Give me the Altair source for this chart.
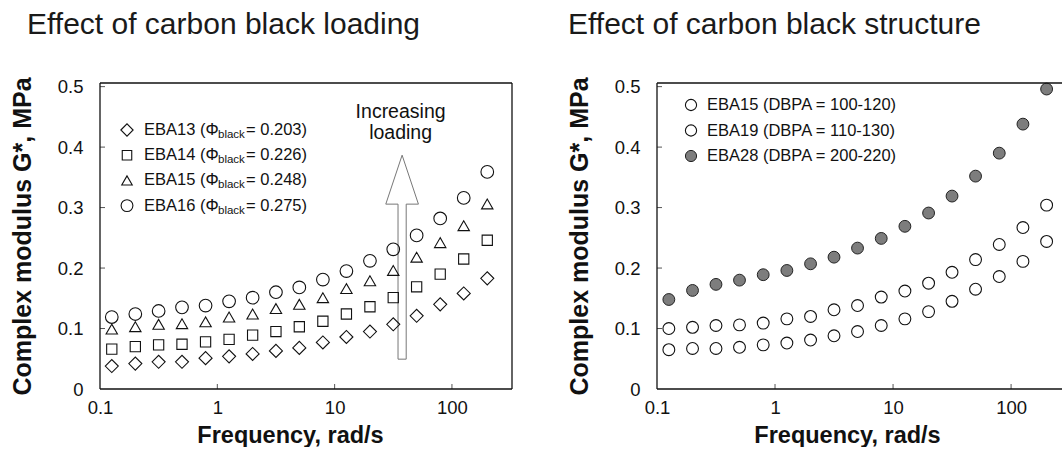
import altair as alt
import pandas as pd

# ---------------- data ----------------
freq = [0.126, 0.2, 0.316, 0.5, 0.794, 1.26, 2, 3.16, 5, 7.94, 12.6, 20, 31.6, 50, 79.4, 126, 200]

# Left panel: effect of carbon black loading
eba13 = [0.038, 0.042, 0.045, 0.045, 0.051, 0.054, 0.058, 0.063, 0.068, 0.077, 0.086, 0.095, 0.107, 0.121, 0.140, 0.158, 0.183]
eba14 = [0.066, 0.070, 0.073, 0.074, 0.078, 0.082, 0.089, 0.095, 0.103, 0.112, 0.124, 0.136, 0.151, 0.169, 0.190, 0.215, 0.246]
eba15_load = [0.099, 0.103, 0.107, 0.108, 0.111, 0.119, 0.124, 0.133, 0.140, 0.151, 0.166, 0.179, 0.196, 0.218, 0.242, 0.270, 0.306]
eba16 = [0.119, 0.124, 0.129, 0.135, 0.138, 0.145, 0.151, 0.160, 0.168, 0.181, 0.195, 0.212, 0.231, 0.254, 0.282, 0.316, 0.359]

# Right panel: effect of carbon black structure
eba15_struct = [0.100, 0.102, 0.105, 0.106, 0.109, 0.116, 0.120, 0.131, 0.138, 0.152, 0.162, 0.175, 0.193, 0.214, 0.239, 0.267, 0.304]
eba19 = [0.065, 0.067, 0.067, 0.069, 0.073, 0.076, 0.081, 0.088, 0.095, 0.105, 0.116, 0.128, 0.145, 0.165, 0.186, 0.211, 0.244]
eba28 = [0.148, 0.163, 0.173, 0.180, 0.189, 0.196, 0.207, 0.218, 0.233, 0.249, 0.269, 0.291, 0.319, 0.352, 0.390, 0.438, 0.496]

# text
left_title = "Effect of carbon black loading"
right_title = "Effect of carbon black structure"
x_title = "Frequency, rad/s"
y_title = "Complex modulus G*, MPa"
left_names = ["EBA13", "EBA14", "EBA15", "EBA16"]
left_phi = ["0.203", "0.226", "0.248", "0.275"]
right_labels = ["EBA15 (DBPA = 100-120)", "EBA19 (DBPA = 110-130)", "EBA28 (DBPA = 200-220)"]
ann_text = ["Increasing", "loading"]
ann_freq = [36.5, 36.5]
ann_mod = [0.458, 0.424]
arrow_freq = [37.6]
arrow_mod = [0.218]

x_ticks = [0.1, 1, 10, 100]
y_ticks = [0, 0.1, 0.2, 0.3, 0.4, 0.5]

# ---------------- styling ----------------
FONT = "Liberation Sans"
INK = "#111111"
H = 306
WL = 412
WR = 405
ARROW = "M -0.04 1 L 0.04 1 L 0.04 -0.52 L 0.16 -0.52 L 0 -1 L -0.16 -0.52 L -0.04 -0.52 Z"


def x_enc(xmax):
    return alt.X(
        "freq:Q",
        scale=alt.Scale(type="log", domain=[0.1, xmax], nice=False),
        axis=alt.Axis(values=x_ticks, format="~g", ticks=False, domain=False, grid=False,
                      labelFlush=False, labelFontSize=18.5, labelPadding=9, labelFont=FONT,
                      labelColor=INK,
                      title=x_title, titleFont=FONT, titleFontSize=23.5, titleFontWeight="bold",
                      titleColor=INK, titlePadding=7, titleX=190, titleAlign="center"),
    )


def y_enc():
    return alt.Y(
        "modulus:Q",
        scale=alt.Scale(domain=[0, 0.506], nice=False),
        axis=alt.Axis(values=y_ticks, format="~g", ticks=False, domain=False, grid=False,
                      labelFlush=False, labelFontSize=18.5, labelPadding=17, labelFont=FONT,
                      labelColor=INK,
                      title=y_title, titleFont=FONT, titleFontSize=25, titleFontWeight="bold",
                      titleColor=INK, titlePadding=22),
    )


def series(vals, xmax, shape, size, filled=False):
    df = pd.DataFrame({"freq": freq, "modulus": vals})
    if filled:
        mk = alt.Chart(df).mark_point(shape=shape, size=size, filled=True, fill="#7d7d7d",
                                      stroke="#222222", strokeWidth=1, opacity=1)
    else:
        mk = alt.Chart(df).mark_point(shape=shape, size=size, filled=False, color=INK,
                                      strokeWidth=1.1, opacity=1)
    return mk.encode(x=x_enc(xmax), y=y_enc())


def frame(W, right=True):
    rule = dict(color=INK, strokeWidth=1.3)
    layers = [
        alt.Chart().mark_rule(**rule).encode(x=alt.value(0), x2=alt.value(W), y=alt.value(0)),
        alt.Chart().mark_rule(**rule).encode(x=alt.value(0), x2=alt.value(W), y=alt.value(H)),
        alt.Chart().mark_rule(**rule).encode(x=alt.value(0), y=alt.value(0), y2=alt.value(H)),
    ]
    if right:
        layers.append(alt.Chart().mark_rule(**rule).encode(x=alt.value(W), y=alt.value(0), y2=alt.value(H)))
    return layers


def inner_ticks(xmax):
    ydf = pd.DataFrame({"modulus": y_ticks[1:]})
    xdf = pd.DataFrame({"freq": x_ticks[1:]})
    return [
        alt.Chart(ydf).mark_rule(color="#555555", strokeWidth=1).encode(
            y=y_enc(), x=alt.value(0), x2=alt.value(5)),
        alt.Chart(xdf).mark_rule(color="#555555", strokeWidth=1).encode(
            x=x_enc(xmax), y=alt.value(H), y2=alt.value(H - 5)),
    ]


def txt(text, x, y, size=16.5, align="left"):
    return alt.Chart().mark_text(text=text, font=FONT, fontSize=size, color=INK, align=align,
                                 baseline="middle").encode(x=alt.value(x), y=alt.value(y))


def sym(shape, x, y, size, filled=False):
    if filled:
        m = alt.Chart().mark_point(shape=shape, size=size, filled=True, fill="#7d7d7d",
                                   stroke="#222222", strokeWidth=1, opacity=1)
    else:
        m = alt.Chart().mark_point(shape=shape, size=size, filled=False, color=INK,
                                   strokeWidth=1.1, opacity=1)
    return m.encode(x=alt.value(x), y=alt.value(y))


# ---------------- left panel ----------------
XL = 325
arrow = alt.Chart(pd.DataFrame({"freq": arrow_freq, "modulus": arrow_mod})).mark_point(
    shape=ARROW, size=41616, filled=True, fill="white", stroke="#777777", strokeWidth=1, opacity=1
).encode(x=x_enc(XL), y=y_enc())
ann = alt.Chart(pd.DataFrame({"freq": ann_freq, "modulus": ann_mod, "t": ann_text})).mark_text(
    font=FONT, fontSize=19.5, color=INK, align="center", baseline="middle"
).encode(x=x_enc(XL), y=y_enc(), text="t:N")

left_shapes = ["diamond", "square", "triangle-up", "circle"]
left_sizes = [170, 105, 130, 160]
left_leg_sizes = [150, 90, 110, 140]
left_data = [eba13, eba14, eba15_load, eba16]

left_layers = [arrow, ann]
for vals, shp, sz in zip(left_data, left_shapes, left_sizes):
    left_layers.append(series(vals, XL, shp, sz))
for i, (nm, ph, shp, sz) in enumerate(zip(left_names, left_phi, left_shapes, left_leg_sizes)):
    ry = 47 + 25.2 * i
    left_layers.append(sym(shp, 27, ry, sz))
    left_layers.append(txt(f"{nm} (\u03a6", 44, ry))
    left_layers.append(txt("black", 118, ry + 5, size=11.5))
    left_layers.append(txt(f"= {ph})", 146, ry))
left_layers += inner_ticks(XL) + frame(WL, right=True)

left = alt.layer(*left_layers).properties(
    width=WL, height=H,
    title=alt.Title(left_title, anchor="start", frame="group", dx=-73, offset=13,
                    fontSize=30, fontWeight="normal", font=FONT, color="#1a1a1a",
                    baseline="alphabetic"),
)

# ---------------- right panel ----------------
XR = 270
right_layers = [
    series(eba15_struct, XR, "circle", 140),
    series(eba19, XR, "circle", 140),
    series(eba28, XR, "circle", 140, filled=True),
]
for i, lab in enumerate(right_labels):
    ry = 22 + 25.5 * i
    right_layers.append(sym("circle", 34, ry, 125, filled=(i == 2)))
    right_layers.append(txt(lab, 50, ry))
right_layers += inner_ticks(XR) + frame(WR, right=False)

right = alt.layer(*right_layers).properties(
    width=WR, height=H,
    title=alt.Title(right_title, anchor="start", frame="group", dx=-89, offset=13,
                    fontSize=30, fontWeight="normal", font=FONT, color="#1a1a1a",
                    baseline="alphabetic"),
)

chart = (
    alt.hconcat(left, right, spacing=54)
    .properties(padding={"left": 10, "top": 9, "right": 0, "bottom": 0}, background="white")
    .configure_view(stroke=None)
)

chart.save("out.html", embed_options={"renderer": "svg", "actions": False})
